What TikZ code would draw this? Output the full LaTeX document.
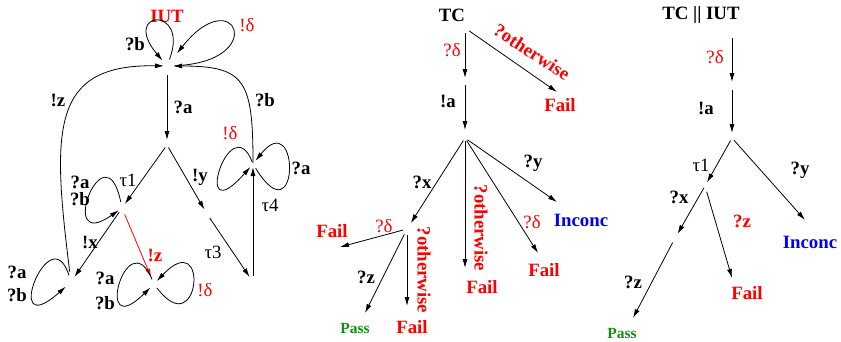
\documentclass[tikz,border=0pt]{standalone}
\usepackage{fontspec}
\setmainfont{Liberation Serif}
\usetikzlibrary{arrows.meta}
\definecolor{vred}{RGB}{255,0,0}
\definecolor{vblue}{RGB}{0,0,255}
\definecolor{vgreen}{RGB}{20,140,20}
\begin{document}
\begin{tikzpicture}[x=1pt,y=-1pt,
  arr/.style={color=black, line width=0.8pt, -{Latex[length=9pt,width=5pt]}},
  redarr/.style={arr, color=vred},
  lb/.style={font=\fontsize{18.8}{21}\selectfont\bfseries, inner sep=0pt},
  lr/.style={font=\fontsize{18.8}{21}\selectfont, inner sep=0pt},
  fail/.style={lb, text=vred},
  inc/.style={lb, text=vblue},
  pass/.style={font=\fontsize{15.5}{17}\selectfont\bfseries, inner sep=0pt, text=vgreen}
]
\useasboundingbox (0,0) rectangle (841,341);

% ================= IUT =================
\coordinate (s0) at (167,66);
\coordinate (s1) at (167,145);
\coordinate (s2) at (122,208);
\coordinate (s3) at (71,282);
\coordinate (s4) at (154,284);
\coordinate (s5) at (207,214);
\coordinate (s6) at (253,282);
\coordinate (s7) at (253,164);

\node[lb, text=vred] (iut) at (167,16) {IUT};

\draw[arr, shorten <=9pt, shorten >=5pt] (s0) -- (s1);
\draw[arr, shorten <=3pt, shorten >=5pt] (s1) -- (s2);
\draw[arr, shorten <=3pt, shorten >=5pt] (s1) -- (s5);
\draw[arr, shorten <=5pt, shorten >=6pt] (s5) -- (s6);
\draw[arr, shorten <=6pt, shorten >=3pt] (s6) -- (s7);
\draw[arr, shorten <=5pt, shorten >=6pt] (s2) -- (s3);
\draw[redarr, shorten <=7pt, shorten >=7pt] (s2) -- (s4);
\draw[arr, shorten <=10pt, shorten >=3pt] (s3) .. controls (52,130) and (50,64) .. (s0);
\draw[arr, shorten <=1pt, shorten >=6pt] (s7) .. controls (253,80) and (245,66) .. (s0);

% loops
\draw[arr, shorten <=7pt, shorten >=7pt] (s0) .. controls (190,5) and (120,10) .. (s0);
\draw[arr, shorten <=8pt, shorten >=16pt] (s0) .. controls (270,62) and (235,-20) .. (s0);
\draw[arr, shorten <=6pt, shorten >=4pt] (s2) .. controls (105,125) and (55,255) .. (s2);
\draw[arr, shorten <=7pt, shorten >=7pt] (s3) .. controls (50,215) and (0,345) .. (s3);
\draw[arr, shorten <=5pt, shorten >=5pt] (s4) .. controls (127,220) and (92,345) .. (s4);
\draw[arr, shorten <=5pt, shorten >=4pt] (s4) .. controls (200,345) and (210,225) .. (s4);
\draw[arr, shorten <=2pt, shorten >=4pt] (s7) .. controls (230,105) and (190,235) .. (s7);
\draw[arr, shorten <=5pt, shorten >=4pt] (s7) .. controls (300,240) and (300,105) .. (s7);

% labels
\node[lb] (la1) at (135,44) {?b};
\node[lr, text=vred] (la2) at (247,25) {!δ};
\node[lb] (la3) at (183,107) {?a};
\node[lb] (la4) at (58,100) {!z};
\node[lb] (la5) at (265,100) {?b};
\node[lr] (la6) at (128,180) {τ1};
\node[lb] (la7) at (200,177) {!y};
\node[lb] (la8) at (80,182) {?a};
\node[lb] (la9) at (80,199) {?b};
\node[lb] (la10) at (90,242) {!x};
\node[lb, text=vred] (la11) at (155,255) {!z};
\node[lr] (la12) at (213,252) {τ3};
\node[lr] (la13) at (270,205) {τ4};
\node[lr, text=vred] (la14) at (230,133) {!δ};
\node[lb] (la15) at (301,168) {?a};
\node[lb] (la16) at (17,272) {?a};
\node[lb] (la17) at (17,295) {?b};
\node[lb] (la18) at (105,278) {?a};
\node[lb] (la19) at (105,303) {?b};
\node[lr, text=vred] (la20) at (205,290) {!δ};

% ================= TC =================
\node[lb] (tct) at (452,15) {TC};
\coordinate (t0) at (465,28);
\coordinate (t1) at (465,81);
\coordinate (t2) at (465,138);
\coordinate (t3) at (407,229);
\coordinate (e1) at (557,92);
\coordinate (e2) at (465,268);
\coordinate (e3) at (538,253);
\coordinate (e4) at (557,202);
\coordinate (e5) at (340,247);
\coordinate (e6) at (365,313);
\coordinate (e7) at (407,306);

\draw[arr, shorten <=5pt, shorten >=3pt] (t0) -- (t1);
\draw[arr, shorten <=4pt, shorten >=8pt] (t1) -- (t2);
\draw[arr, shorten <=5pt] (t0) -- (e1);
\draw[arr, shorten <=3pt, shorten >=7pt] (t2) -- (t3);
\draw[arr, shorten <=3pt] (t2) -- (e2);
\draw[arr, shorten <=3pt] (t2) -- (e3);
\draw[arr, shorten <=3pt] (t2) -- (e4);
\draw[arr, shorten <=4pt] (t3) -- (e5);
\draw[arr, shorten <=6pt] (t3) -- (e6);
\draw[arr, shorten <=6pt] (t3) -- (e7);

\node[lr, text=vred] (tl1) at (452,50) {?δ};
\node[lb, text=vred, rotate=-33] (tl2) at (532,52) {?otherwise};
\node[fail] (tf1) at (560,105) {Fail};
\node[lb] (tl3) at (448,101) {!a};
\node[lb] (tl4) at (422,182) {?x};
\node[lb, text=vred, rotate=-90] (tl5) at (481,228) {?otherwise};
\node[fail] (tf2) at (482,287) {Fail};
\node[lr, text=vred] (tl6) at (532,222) {?δ};
\node[fail] (tf3) at (544,270) {Fail};
\node[lb] (tl7) at (533,163) {?y};
\node[inc] (ti1) at (581,220) {Inconc};
\node[fail] (tf4) at (332,231) {Fail};
\node[lr, text=vred] (tl8) at (384,226) {?δ};
\node[lb] (tl9) at (366,277) {?z};
\node[pass] (tp1) at (355,328) {Pass};
\node[lb, text=vred, rotate=-90] (tl10) at (424,270) {?otherwise};
\node[fail] (tf5) at (412,327) {Fail};

% ================= TC || IUT =================
\node[lb] (ut) at (701,15) {TC || IUT};
\coordinate (u0) at (732,32);
\coordinate (u1) at (732,86);
\coordinate (u2) at (732,138);
\coordinate (u3) at (705,186);
\coordinate (u4) at (674,240);
\coordinate (g1) at (805,220);
\coordinate (g2) at (732,278);
\coordinate (g3) at (633,318);

\draw[arr, shorten <=6pt, shorten >=4pt] (u0) -- (u1);
\draw[arr, shorten <=4pt, shorten >=5pt] (u1) -- (u2);
\draw[arr, shorten <=3pt, shorten >=4pt] (u2) -- (u3);
\draw[arr, shorten <=3pt] (u2) -- (g1);
\draw[arr, shorten <=2pt, shorten >=7pt] (u3) -- (u4);
\draw[arr, shorten <=6pt] (u3) -- (g2);
\draw[arr, shorten <=3pt] (u4) -- (g3);

\node[lr, text=vred] (ul1) at (715,57) {?δ};
\node[lb] (ul2) at (706,108) {!a};
\node[lr] (ul3) at (701,165) {τ1};
\node[lb] (ul4) at (800,170) {?y};
\node[inc] (ui1) at (810,242) {Inconc};
\node[lb] (ul5) at (679,197) {?x};
\node[lb, text=vred] (ul6) at (742,221) {?z};
\node[fail] (uf1) at (747,293) {Fail};
\node[lb] (ul7) at (633,282) {?z};
\node[pass] (up1) at (622,333) {Pass};
\end{tikzpicture}
\end{document}
